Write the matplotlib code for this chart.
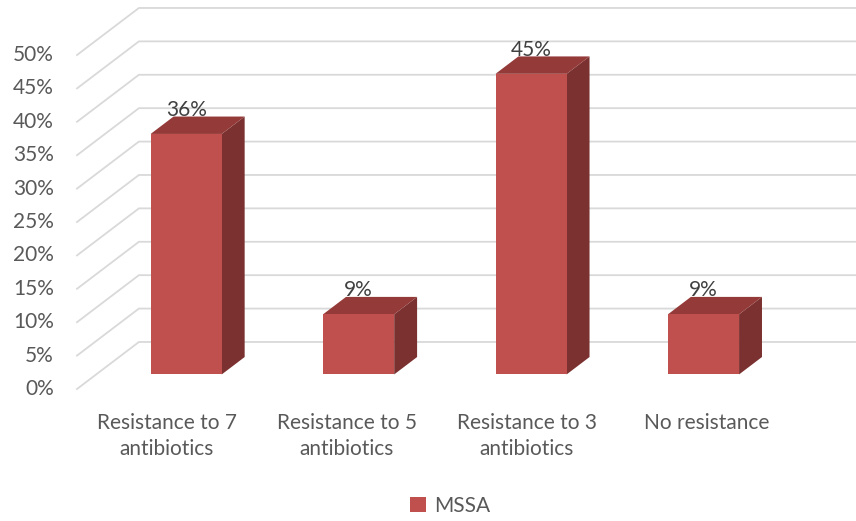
import matplotlib.pyplot as plt
from matplotlib.patches import Polygon, Patch

plt.rcParams['font.family'] = ['Lato', 'DejaVu Sans']

categories = ['Resistance to 7\nantibiotics', 'Resistance to 5\nantibiotics',
              'Resistance to 3\nantibiotics', 'No resistance']
mssa = [36, 9, 45, 9]
ticks = [0, 5, 10, 15, 20, 25, 30, 35, 40, 45, 50]

front_c = '#C0504D'
top_c = '#943A38'
side_c = '#7A3130'
grid_c = '#D9D9D9'
txt_c = '#595959'

# oblique depth of the whole plot box, in data units (categories, percent)
Du, Dv = 0.344, 7.04
t0, t1 = 0.31, 0.68   # front / back of bars as a fraction of depth
w = 0.395
persp = 0.958         # bars sit deeper, so they're drawn a bit closer together

fig = plt.figure(figsize=(8.56, 5.21), dpi=100)
ax = fig.add_axes([0, 0, 1, 1])
ax.set_xlim(-77/180, 779/180)
ax.set_ylim(-132/6.68, 389/6.68)
ax.axis('off')

# gridlines: diagonal on the side wall, then straight along the back wall
for v in ticks:
    ax.plot([0, Du, 5], [v, v + Dv, v + Dv], color=grid_c, lw=1.3, zorder=1)
    ax.text(-0.128, v, f'{v}%', ha='right', va='center', fontsize=15, color=txt_c)

for i, h in enumerate(mssa):
    xl = 0.5 + i*persp - w/2 + t0*Du
    xr = xl + w
    y0 = t0*Dv
    du = (t1 - t0)*Du
    dv = (t1 - t0)*Dv
    front = [(xl, y0), (xr, y0), (xr, y0 + h), (xl, y0 + h)]
    top = [(xl, y0 + h), (xr, y0 + h), (xr + du, y0 + h + dv), (xl + du, y0 + h + dv)]
    side = [(xr, y0), (xr + du, y0 + dv), (xr + du, y0 + h + dv), (xr, y0 + h)]
    ax.add_patch(Polygon(side, closed=True, fc=side_c, ec='none', zorder=2))
    ax.add_patch(Polygon(top, closed=True, fc=top_c, ec='none', zorder=2))
    ax.add_patch(Polygon(front, closed=True, fc=front_c, ec='none', zorder=3))
    ax.text((xl + xr)/2, y0 + h + dv - 0.5, f'{h}%', ha='center', va='bottom',
            fontsize=15, color='#404040', zorder=4)
    ax.text(i + 0.5, -3.6, categories[i], ha='center', va='top', fontsize=15,
            color=txt_c, linespacing=1.4)

fig.legend(handles=[Patch(fc=front_c, ec='none', label='MSSA')], loc='center',
           bbox_to_anchor=(0.526, 0.029), frameon=False, fontsize=15,
           handlelength=0.75, handleheight=0.75, handletextpad=0.4, labelcolor=txt_c)

plt.savefig('out.png', dpi=100)
